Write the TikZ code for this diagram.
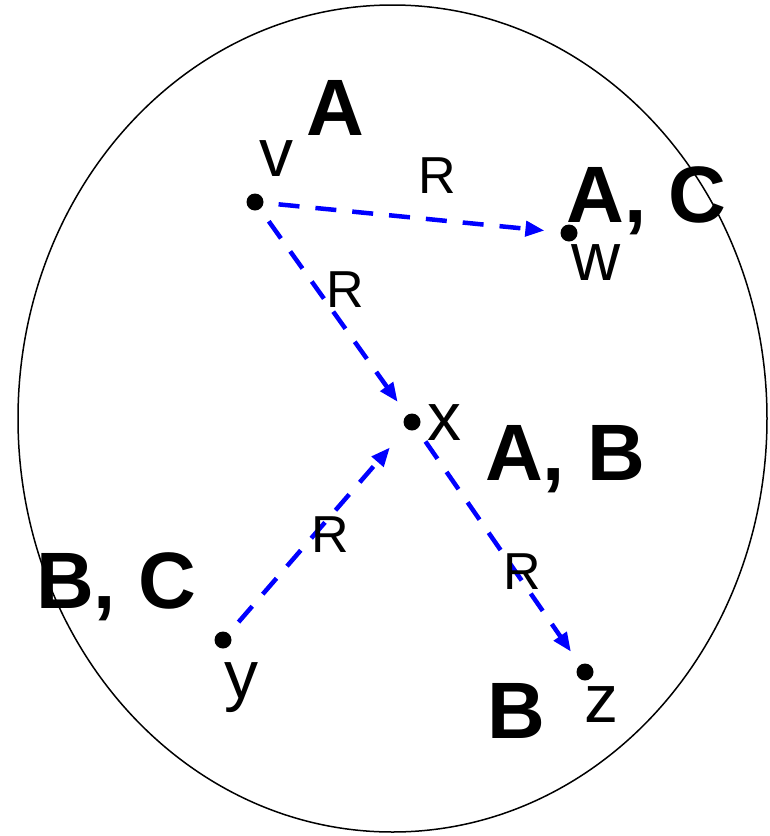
\documentclass[tikz,border=0pt]{standalone}
\usepackage{fontspec}
\setmainfont{Liberation Sans}
\usetikzlibrary{arrows.meta}
\definecolor{relblue}{HTML}{0000FF}
\tikzset{
  vertex/.style={circle, fill=black, inner sep=0pt, minimum size=17pt},
  vname/.style={anchor=base, inner sep=0pt, font=\fontsize{68}{80}\selectfont},
  concept/.style={anchor=base, inner sep=0pt, font=\fontsize{80}{96}\selectfont\bfseries},
  rlabel/.style={anchor=base, inner sep=0pt, font=\fontsize{52}{62}\selectfont},
  rel/.style={-{Triangle[length=19pt, width=15pt]}, relblue, line width=4.5pt,
    dash pattern=on 21pt off 16pt, shorten <=15pt, shorten >=16pt},
}

\begin{document}
\begin{tikzpicture}[x=1pt, y=-1pt]
  \useasboundingbox (0,0) rectangle (770,836);

  % --- Domain ---
  \draw[line width=1.5pt] (392.5,418.5) ellipse [x radius=374.5, y radius=413.5];

  % --- Individuals ---
  \node[vertex] (v) at (255,202) {};
  \node[vertex] (w) at (569,233) {};
  \node[vertex] (x) at (412,422) {};
  \node[vertex] (y) at (223,640) {};
  \node[vertex] (z) at (585,672) {};

  \node[vname] (vname) at (276.5,176) {v};
  \node[vname] (wname) at (596,280) {w};
  \node[vname] (xname) at (444,440) {x};
  \node[vname] (yname) at (241.5,698) {y};
  \node[vname] (zname) at (601.5,722) {z};

  % --- Concepts ---
  \node[concept] (cv) at (335.5,135) {A};
  \node[concept] (cw) at (646.5,222) {A, C};
  \node[concept] (cx) at (565,480) {A, B};
  \node[concept] (cy) at (116,608) {B, C};
  \node[concept] (cz) at (516,738) {B};

  % --- Role R ---
  \draw[rel] (v) -- (w);
  \draw[rel] (v) -- (x);
  \draw[rel, shorten >=25pt] (y) -- (x);
  \draw[rel] (x) -- (z);

  \node[rlabel] (rvw) at (437,193) {R};
  \node[rlabel] (rvx) at (345.5,307) {R};
  \node[rlabel] (ryx) at (330,552) {R};
  \node[rlabel] (rxz) at (522,589) {R};

\end{tikzpicture}
\end{document}
